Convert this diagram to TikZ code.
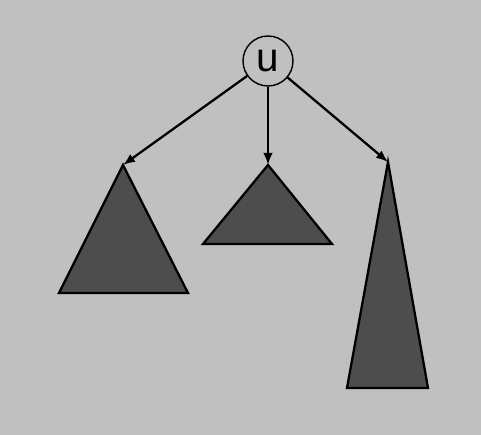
\documentclass[tikz,border=0pt]{standalone}
\usepackage{fontspec}
\setmainfont{Liberation Sans}
\usetikzlibrary{arrows.meta}
\definecolor{bggray}{RGB}{192,192,192}
\definecolor{treegray}{RGB}{77,77,77}

\begin{document}
\begin{tikzpicture}[
    x=0.02cm, y=-0.02cm,
    root/.style={circle, draw, line width=0.8pt, minimum size=1cm, inner sep=0pt,
                 font=\fontsize{23}{27}\selectfont},
    edge/.style={-{Latex[length=2.4mm,width=1.9mm]}, line width=1.3pt},
    subtree/.style={draw, fill=treegray, line width=1.3pt, line join=miter}
]

% --- FOND ---
\fill[bggray] (0,0) rectangle (481,435);
\useasboundingbox (0,0) rectangle (481,435);

% --- RACINE ---
\node[root] (u) at (268,61) {u};

% --- SOUS-ARBRES ---
% sommets et bases
\coordinate (left-top) at (123,165);
\coordinate (left-bl) at (59,293);
\coordinate (left-br) at (188,293);

\coordinate (mid-top) at (268,165);
\coordinate (mid-bl) at (203,244);
\coordinate (mid-br) at (332,244);

\coordinate (right-top) at (388,162);
\coordinate (right-bl) at (347,388);
\coordinate (right-br) at (428,388);

\foreach \t in {left,mid,right}
    \draw[subtree] (\t-top) -- (\t-br) -- (\t-bl) -- cycle;

% --- ARCS ---
\foreach \t in {left,mid,right}
    \draw[edge] (u) -- (\t-top);

\end{tikzpicture}
\end{document}
